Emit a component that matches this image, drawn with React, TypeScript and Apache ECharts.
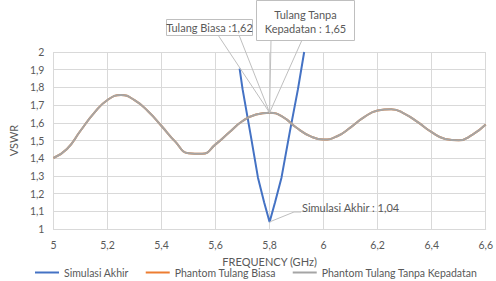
import React, { useEffect, useRef } from "react";
import * as echarts from "echarts";

const freqPhantom = [5.0, 5.05, 5.1, 5.15, 5.2, 5.25, 5.3, 5.35, 5.4, 5.45, 5.5, 5.55, 5.6, 5.65, 5.7, 5.75, 5.8, 5.85, 5.9, 5.95, 6.0, 6.05, 6.1, 6.15, 6.2, 6.25, 6.3, 6.35, 6.4, 6.45, 6.5, 6.55, 6.6];
const vswrTanpa = [1.401, 1.452, 1.555, 1.655, 1.729, 1.757, 1.728, 1.665, 1.582, 1.495, 1.428, 1.425, 1.478, 1.545, 1.61, 1.647, 1.657, 1.632, 1.572, 1.525, 1.505, 1.524, 1.574, 1.632, 1.669, 1.677, 1.651, 1.602, 1.547, 1.509, 1.501, 1.532, 1.59];
const vswrBiasa = [1.401, 1.452, 1.555, 1.655, 1.729, 1.757, 1.728, 1.665, 1.582, 1.495, 1.428, 1.425, 1.478, 1.545, 1.61, 1.647, 1.657, 1.632, 1.572, 1.525, 1.505, 1.524, 1.574, 1.632, 1.669, 1.677, 1.651, 1.602, 1.547, 1.509, 1.501, 1.532, 1.59];
const freqSim = [5.689, 5.7, 5.73, 5.757, 5.78, 5.8, 5.82, 5.844, 5.875, 5.905, 5.928];
const vswrSim = [1.906, 1.79, 1.53, 1.29, 1.15, 1.04, 1.15, 1.29, 1.55, 1.79, 2.0];

const seriesNames = ["Simulasi Akhir", "Phantom Tulang Biasa", "Phantom Tulang Tanpa Kepadatan"];
const seriesColors = ["#4472C4", "#ED7D31", "#A5A5A5"];
const annotBiasa = "Tulang Biasa :1,62";
const annotTanpa = ["Tulang Tanpa", "Kepadatan : 1,65"];
const annotSim = "Simulasi Akhir : 1,04";
const peakPoint = [5.8, 1.657];
const minPoint = [5.8, 1.04];

const FONT = "Lato";
const fmt = (v: number) => String(parseFloat(v.toFixed(2))).replace(".", ",");

export default function App() {
  const ref = useRef<HTMLDivElement>(null);
  useEffect(() => {
    if (!ref.current) return;
    const chart = echarts.init(ref.current, undefined, { renderer: "svg" });
    const zip = (xs: number[], ys: number[]) => xs.map((x, i) => [x, ys[i]]);
    chart.setOption({
      animation: false,
      textStyle: { fontFamily: FONT },
      grid: { left: 49, right: 8, top: 52, bottom: 52 },
      legend: {
        left: 35,
        top: 267,
        width: 461,
        padding: 0,
        itemWidth: 24,
        itemHeight: 2,
        itemGap: 17,
        icon: "rect",
        textStyle: { fontFamily: FONT, fontSize: 10.5, color: "#595959" },
        data: seriesNames,
      },
      xAxis: {
        type: "value",
        min: 5,
        max: 6.6,
        interval: 0.2,
        name: "FREQUENCY (GHz)",
        nameLocation: "middle",
        nameGap: 27,
        nameTextStyle: { fontFamily: FONT, fontSize: 11, color: "#595959" },
        axisLine: { show: true, lineStyle: { color: "#D9D9D9" } },
        axisTick: { show: false },
        axisLabel: { fontFamily: FONT, fontSize: 10.5, color: "#595959", margin: 10, formatter: fmt },
        splitLine: { show: true, lineStyle: { color: "#D9D9D9" } },
      },
      yAxis: {
        type: "value",
        min: 1,
        max: 2,
        interval: 0.1,
        name: "VSWR",
        nameLocation: "middle",
        nameGap: 30,
        nameTextStyle: { fontFamily: FONT, fontSize: 11, color: "#595959" },
        axisLine: { show: false },
        axisTick: { show: false },
        axisLabel: { fontFamily: FONT, fontSize: 10.5, color: "#595959", margin: 9, formatter: fmt },
        splitLine: { show: true, lineStyle: { color: "#D9D9D9" } },
      },
      series: [
        {
          name: seriesNames[0],
          type: "line",
          data: zip(freqSim, vswrSim),
          showSymbol: false,
          lineStyle: { width: 2, color: seriesColors[0] },
          itemStyle: { color: seriesColors[0] },
        },
        {
          name: seriesNames[1],
          type: "line",
          smooth: true,
          data: zip(freqPhantom, vswrBiasa),
          showSymbol: false,
          lineStyle: { width: 2, color: seriesColors[1] },
          itemStyle: { color: seriesColors[1] },
        },
        {
          name: seriesNames[2],
          type: "line",
          smooth: true,
          data: zip(freqPhantom, vswrTanpa),
          showSymbol: false,
          lineStyle: { width: 2, color: seriesColors[2] },
          itemStyle: { color: seriesColors[2] },
        },
      ],
    });

    const pk = chart.convertToPixel({ gridIndex: 0 }, peakPoint) as number[];
    const mn = chart.convertToPixel({ gridIndex: 0 }, minPoint) as number[];
    const boxStroke = "#BFBFBF";
    const txt = { fill: "#595959", fontFamily: FONT, fontSize: 11 };
    chart.setOption({
      graphic: [
        { type: "polyline", shape: { points: [[218, 35], pk, [239, 35]] }, style: { stroke: boxStroke, fill: null, lineWidth: 1 }, z: 10 },
        { type: "polyline", shape: { points: [[271, 40], pk, [302, 40]] }, style: { stroke: boxStroke, fill: null, lineWidth: 1 }, z: 10 },
        { type: "rect", shape: { x: 166.5, y: 19.5, width: 86, height: 16 }, style: { fill: "#fff", stroke: boxStroke, lineWidth: 1 }, z: 11 },
        { type: "text", x: 209.5, y: 27.5, style: { ...txt, text: annotBiasa, align: "center", verticalAlign: "middle" }, z: 12 },
        { type: "rect", shape: { x: 256.5, y: 0.5, width: 98, height: 40 }, style: { fill: "#fff", stroke: boxStroke, lineWidth: 1 }, z: 11 },
        { type: "text", x: 305.5, y: 14.5, style: { ...txt, text: annotTanpa[0], align: "center", verticalAlign: "middle" }, z: 12 },
        { type: "text", x: 305.5, y: 28, style: { ...txt, text: annotTanpa[1], align: "center", verticalAlign: "middle" }, z: 12 },
        { type: "polyline", shape: { points: [mn, [294, 212], [301, 212]] }, style: { stroke: boxStroke, fill: null, lineWidth: 1 }, z: 10 },
        { type: "text", x: 302, y: 207, style: { ...txt, text: annotSim, align: "left", verticalAlign: "middle" }, z: 12 },
      ],
    });
    return () => chart.dispose();
  }, []);
  return <div ref={ref} style={{ width: 496, height: 281, position: "absolute", left: 0, top: 0 }} />;
}
